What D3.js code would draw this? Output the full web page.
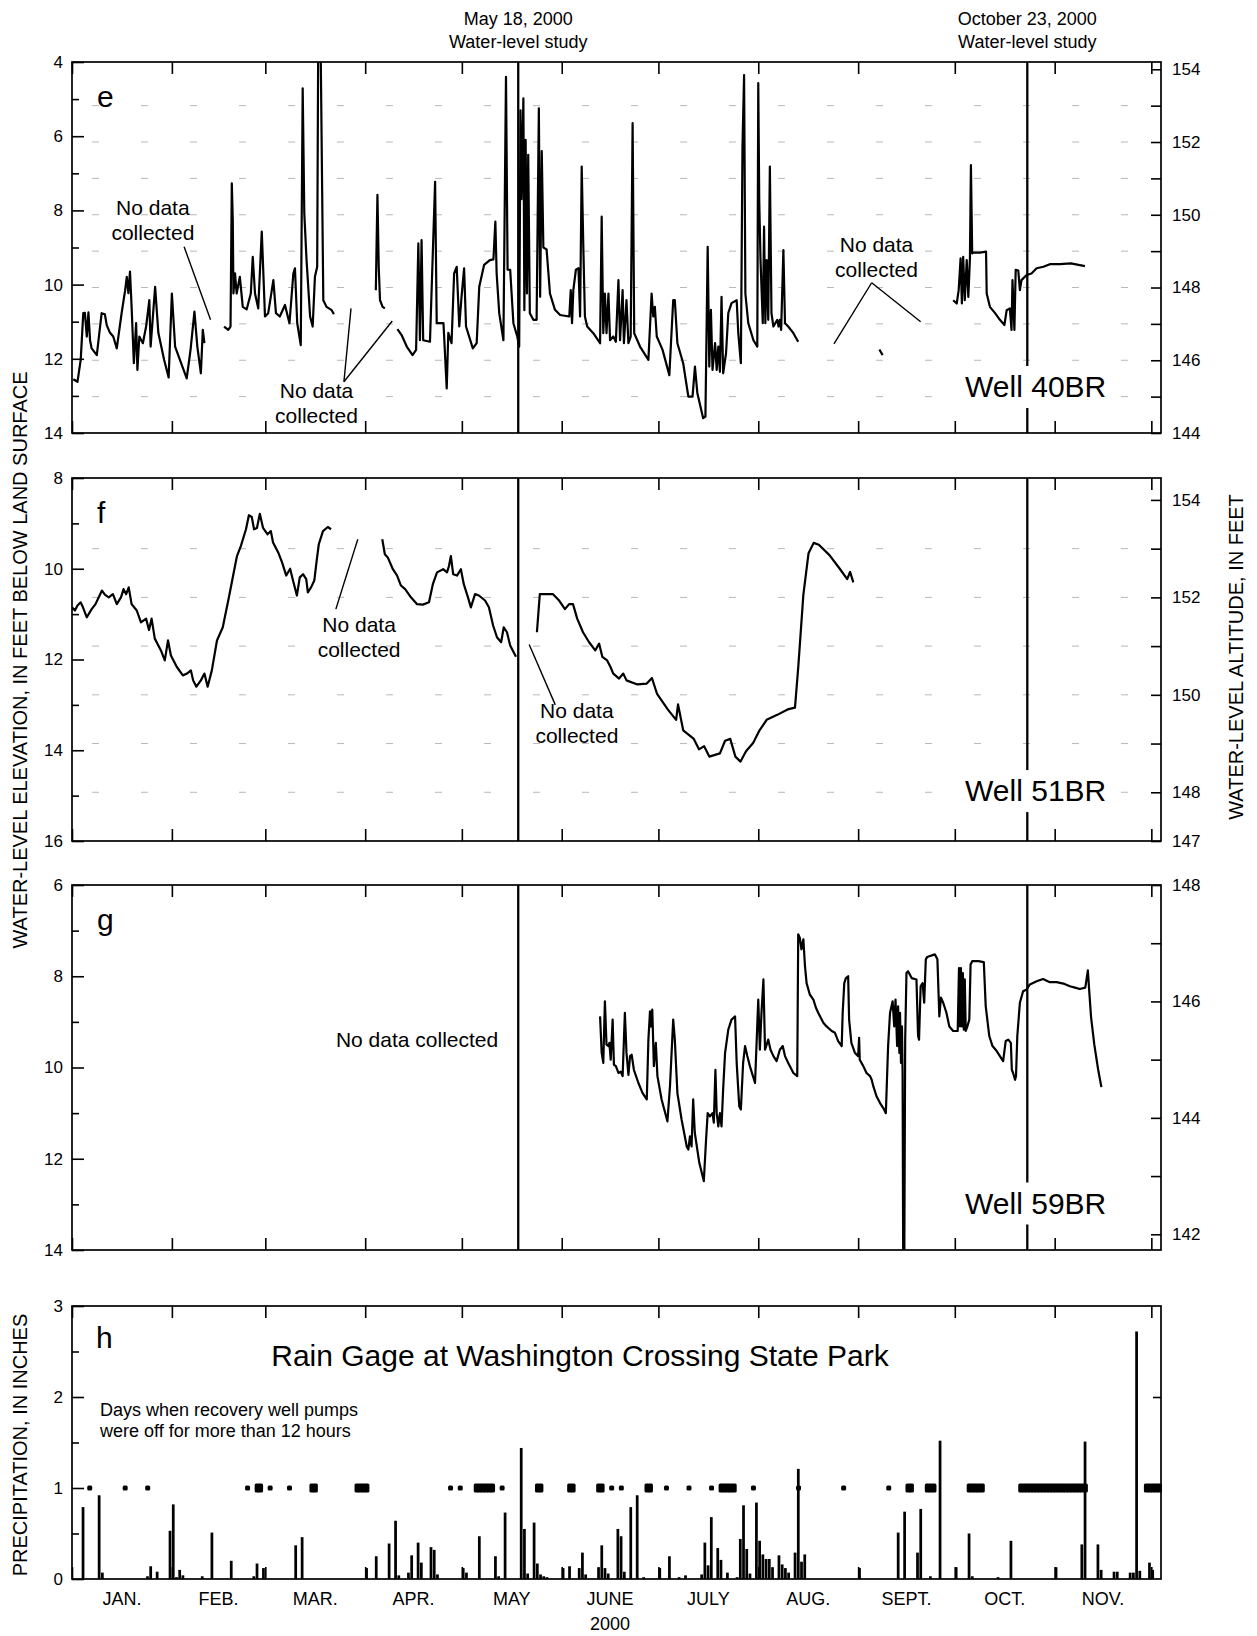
<!DOCTYPE html>
<html>
<head>
<meta charset="utf-8">
<script src="https://cdn.jsdelivr.net/npm/d3@7"></script>
<style>
  body { margin: 0; background: #fff; }
  svg text { font-family: "Liberation Sans", Arial, Helvetica, sans-serif; fill: #000; }
</style>
</head>
<body>
<svg id="chart"></svg>
<script>
// ---- data (days counted from Jan 1, 2000 = 0; depth in feet below land surface) ----
const monthLabels = ["JAN.", "FEB.", "MAR.", "APR.", "MAY", "JUNE", "JULY", "AUG.", "SEPT.", "OCT.", "NOV."];
const studyDays = [138.5, 296.5];
const studyLabels = [["May 18, 2000", "Water-level study"], ["October 23, 2000", "Water-level study"]];

const well40 = [
  [[0.4,12.55],[1.7,12.62],[2.7,12.03],[3.5,10.77],[4.0,10.76],[4.6,11.4],[5.1,10.75],[5.6,11.5],[6.1,11.72],[7.7,11.9],[9.2,10.77],[10.2,10.8],[10.8,11.1],[11.8,11.3],[12.8,11.4],[13.9,11.72],[15.4,10.77],[16.5,10.15],[17.0,9.79],[17.5,10.23],[18.0,9.65],[18.5,10.6],[19.2,12.12],[19.9,11.04],[20.3,12.3],[20.9,11.4],[22.0,11.58],[23.0,11.13],[24.0,10.42],[24.4,11.67],[25.8,10.06],[26.8,11.3],[28.6,12.03],[30.0,12.5],[31.0,10.24],[32.0,11.67],[33.5,12.03],[35.6,12.53],[36.8,11.75],[38.0,10.73],[38.9,11.67],[40.0,12.39],[40.6,11.22],[41.1,11.58]],
  [[47.2,11.13],[48.5,11.22],[49.2,11.13],[49.6,7.27],[49.9,8.26],[50.1,10.24],[50.6,9.7],[51.1,10.24],[52.1,9.79],[53.0,10.6],[54.2,10.67],[55.5,10.24],[56.1,9.25],[56.8,10.24],[57.8,10.64],[58.9,8.57],[59.9,10.86],[60.9,10.77],[62.5,9.88],[63.3,10.77],[64.5,10.86],[66.1,10.55],[67.5,11.04],[68.7,9.7],[69.2,9.56],[69.9,11.04],[71.0,11.63],[71.6,4.71],[72.1,8.08],[72.8,9.34],[73.9,10.86],[74.7,11.13],[75.4,9.79],[76.1,9.52],[76.4,3.8],[77.2,3.8],[78.0,10.42],[79.0,10.6],[80.6,10.69],[81.3,10.8]],
  [[94.3,10.15],[94.8,7.58],[95.2,9.52],[95.6,10.42],[96.4,10.6],[97.1,10.64]],
  [[101.0,11.2],[102.3,11.36],[103.9,11.67],[105.7,11.9],[106.8,11.76],[107.5,8.89],[108.0,11.5],[108.5,8.8],[109.0,11.5],[111.1,11.54],[112.7,7.23],[113.2,11.04],[115.3,11.04],[116.3,12.8],[116.8,11.3],[117.8,11.58],[118.6,9.7],[119.4,9.52],[120.2,11.13],[120.9,10.33],[121.7,9.56],[122.3,11.13],[124.4,11.72],[125.6,11.58],[126.4,10.06],[127.9,9.47],[129.7,9.34],[130.8,9.32],[131.4,8.3],[131.8,9.7],[132.6,10.77],[133.9,11.5],[134.7,4.4],[135.2,9.6],[136.0,9.6],[137.0,11.04],[138.2,11.4],[138.8,11.67],[139.2,5.3],[139.5,7.7],[140.1,4.98],[140.4,10.69],[140.8,6.1],[141.2,10.24],[141.6,6.5],[142.1,10.77],[143.2,10.95],[144.2,10.95],[144.9,5.25],[145.3,10.33],[145.8,6.4],[146.3,9.0],[147.3,9.05],[148.35,10.24],[149.9,10.68],[151.5,10.82],[154.35,10.86],[154.8,10.15],[155.2,11.04],[155.6,10.15],[156.4,9.6],[157.2,9.56],[157.7,10.86],[158.2,6.82],[158.7,8.98],[159.2,10.86],[159.9,11.13],[161.8,11.31],[163.9,11.58],[164.4,8.17],[164.9,11.31],[165.4,10.24],[165.9,11.31],[166.5,10.24],[167.0,11.5],[168.0,11.4],[168.8,11.54],[169.6,9.88],[170.1,11.5],[170.9,10.15],[171.3,11.58],[172.1,10.42],[172.7,11.58],[173.4,11.4],[174.0,5.65],[174.5,11.31],[176.3,11.67],[178.9,12.03],[179.9,10.24],[180.4,10.86],[180.9,10.6],[181.5,11.4],[183.3,11.76],[185.4,12.44],[186.6,10.42],[187.1,10.42],[187.9,11.58],[189.7,12.12],[191.3,13.02],[192.6,13.02],[193.35,12.21],[194.1,12.93],[195.9,13.6],[196.6,13.56],[197.3,8.98],[197.8,12.21],[198.3,10.68],[198.8,12.3],[199.6,11.58],[200.1,12.3],[200.6,11.67],[201.1,12.35],[201.6,10.33],[202.1,12.39],[203.0,11.85],[203.7,10.77],[204.7,10.5],[206.3,10.42],[206.8,11.31],[207.6,12.12],[208.1,6.28],[208.6,4.35],[209.0,10.24],[209.9,11.04],[211.5,11.5],[212.7,11.67],[213.0,4.57],[213.3,7.72],[213.7,9.34],[214.4,11.04],[214.8,8.44],[215.2,11.04],[215.6,9.34],[216.1,10.95],[216.6,6.82],[217.1,10.77],[217.7,11.13],[218.9,10.95],[219.3,11.13],[219.7,10.95],[220.1,11.22],[220.8,9.07],[221.3,11.04],[222.3,11.13],[223.9,11.31],[225.4,11.54]],
  [[250.6,11.75],[251.6,11.9]],
  [[273.5,10.42],[274.6,10.51],[275.2,10.15],[275.8,9.29],[276.2,10.51],[276.6,9.25],[277.1,10.42],[277.7,9.34],[278.2,10.33],[278.7,9.29],[279.0,6.78],[279.4,9.16],[279.7,9.14],[281.8,9.14],[283.7,9.11],[283.9,10.24],[284.9,10.6],[286.5,10.77],[288.0,10.95],[289.4,11.09],[290.1,10.69],[291.1,10.64],[291.6,11.22],[291.9,9.88],[292.5,11.22],[292.9,9.6],[293.7,9.62],[294.2,10.15],[294.7,9.88],[296.3,9.74],[297.8,9.7],[299.4,9.56],[301.5,9.52],[303.5,9.45],[306.6,9.45],[310.0,9.43],[314.4,9.5]]
];

const well51 = [
  [[0,10.85],[0.9,10.92],[1.7,10.81],[2.7,10.74],[3.4,10.85],[4.6,11.07],[6.1,10.89],[7.3,10.78],[8.3,10.63],[9.3,10.48],[10.2,10.57],[11.4,10.63],[12.7,10.56],[13.9,10.78],[15.2,10.63],[16.0,10.45],[16.8,10.56],[17.6,10.41],[18.5,10.78],[20.1,10.92],[21.4,11.18],[23.0,11.1],[23.9,11.35],[24.7,11.1],[25.7,11.54],[27.6,11.8],[28.8,12.02],[29.8,11.58],[30.7,11.91],[32.5,12.16],[34.4,12.35],[35.7,12.31],[36.9,12.24],[37.6,12.46],[38.6,12.6],[40.0,12.46],[41.1,12.31],[42.1,12.6],[43.4,12.24],[45.0,11.58],[46.8,11.29],[48.7,10.63],[51.2,9.72],[52.4,9.5],[54.0,9.13],[54.9,8.82],[55.8,8.86],[56.5,9.13],[57.4,9.1],[58.3,8.79],[59.3,9.1],[60.7,9.24],[61.7,9.17],[62.4,9.42],[64.0,9.64],[65.2,9.86],[66.5,10.15],[67.7,10.0],[68.6,10.26],[69.8,10.59],[70.7,10.19],[71.7,10.12],[72.7,10.23],[73.2,10.52],[74.2,10.41],[75.2,10.26],[76.0,9.79],[76.6,9.46],[77.9,9.17],[79.4,9.08],[80.4,9.13]],
  [[96.3,9.35],[97.1,9.68],[98.0,9.75],[99.6,10.01],[100.9,10.15],[102.1,10.37],[103.4,10.45],[105.2,10.63],[107.1,10.78],[108.9,10.79],[110.8,10.74],[112.0,10.34],[113.3,10.08],[115.2,10.01],[116.4,10.08],[117.0,9.94],[117.6,9.72],[118.3,10.12],[119.5,10.15],[120.7,10.01],[121.6,10.34],[122.9,10.63],[123.8,10.85],[125.1,10.56],[126.3,10.59],[128.2,10.7],[129.4,10.85],[130.7,11.25],[131.9,11.51],[133.2,11.62],[134.0,11.29],[135.0,11.4],[136.0,11.69],[137.8,11.94]],
  [[144.3,11.4],[145.2,10.56],[149.3,10.56],[151.2,10.7],[153.0,10.89],[154.3,10.78],[155.5,10.78],[156.8,11.1],[158.6,11.4],[160.5,11.62],[162.4,11.8],[163.6,11.65],[164.6,11.94],[166.1,12.02],[167.1,12.16],[168.0,12.31],[169.8,12.42],[171.1,12.31],[172.1,12.46],[175.5,12.55],[178.4,12.53],[180.0,12.41],[181.6,12.76],[184.9,13.1],[187.5,13.33],[188.1,12.99],[189.7,13.56],[193.0,13.75],[194.6,13.98],[196.2,13.91],[197.8,14.14],[201.1,14.07],[202.7,13.79],[204.3,13.75],[205.9,14.14],[207.5,14.25],[209.2,14.02],[211.4,13.84],[213.4,13.56],[215.6,13.33],[218.9,13.22],[222.1,13.1],[224.4,13.06],[225.4,12.18],[227.0,10.57],[228.6,9.66],[230.2,9.43],[231.8,9.47],[235.1,9.7],[238.3,10.0],[240.6,10.23],[241.5,10.07],[242.5,10.3]]
];

const well59 = [
  [[163.9,8.88],[164.4,9.68],[164.9,9.9],[165.4,8.55],[165.9,9.5],[166.5,9.53],[166.8,9.46],[167.2,9.83],[167.8,8.95],[168.2,9.94],[168.8,9.97],[169.6,10.12],[170.3,10.09],[170.9,10.19],[171.6,8.8],[172.1,9.68],[172.7,10.16],[173.2,9.75],[173.7,9.72],[174.4,10.05],[175.8,10.34],[177.1,10.56],[178.4,10.7],[178.9,9.39],[179.4,8.77],[179.7,9.1],[180.1,8.73],[180.6,9.97],[181.2,9.46],[181.7,10.19],[183.0,10.7],[184.8,11.18],[185.6,10.41],[186.6,8.95],[187.1,9.39],[187.9,10.56],[189.2,11.14],[190.8,11.73],[191.3,11.8],[191.8,11.51],[192.3,11.73],[192.8,10.7],[193.3,11.43],[194.7,12.09],[196.1,12.49],[196.8,11.58],[197.3,11.0],[198.0,11.07],[198.8,11.0],[199.2,11.21],[199.7,10.05],[200.1,11.0],[200.6,11.29],[201.1,11.0],[201.6,11.29],[202.1,10.48],[202.7,9.68],[203.7,9.17],[204.7,8.95],[205.8,8.88],[206.3,9.9],[207.1,10.85],[207.6,10.92],[208.3,9.9],[208.9,9.53],[209.6,9.75],[210.4,9.97],[212.0,10.34],[213.0,8.51],[213.5,9.61],[214.0,8.8],[214.6,8.07],[215.1,9.61],[216.1,9.39],[216.8,9.61],[217.7,9.75],[218.7,9.86],[219.7,9.61],[220.6,9.53],[221.3,9.75],[222.3,9.9],[223.9,10.12],[225.1,10.19],[225.4,7.08],[225.9,7.16],[226.4,7.41],[227.0,7.19],[227.5,7.78],[228.0,8.15],[229.0,8.4],[230.1,8.51],[230.9,8.69],[231.6,8.8],[233.2,9.02],[234.2,9.1],[235.8,9.2],[236.8,9.24],[237.8,9.42],[238.9,9.53],[239.2,8.8],[239.7,8.15],[240.2,8.04],[240.9,8.0],[241.2,8.95],[241.9,9.46],[243.0,9.68],[244.0,9.75],[244.3,9.35],[244.5,9.83],[245.6,9.97],[246.6,10.12],[247.7,10.19],[248.2,10.27],[248.7,10.41],[249.7,10.63],[250.8,10.78],[251.8,10.89],[252.6,11.0],[253.3,9.53],[253.9,8.8],[254.7,8.55],[255.2,9.1],[255.6,8.51],[256.1,9.53],[256.4,8.66],[256.8,9.68],[257.0,8.8],[257.3,9.9],[257.6,9.1],[257.8,10.12],[258.0,14.6],[258.3,14.6],[258.6,9.39],[259.0,7.93],[259.5,7.89],[260.6,8.04],[262.1,8.07],[262.6,9.31],[262.9,9.39],[263.4,8.22],[264.0,8.15],[264.5,8.58],[265.0,7.63],[265.4,7.58],[267.8,7.52],[268.6,7.63],[269.2,8.88],[269.7,8.47],[270.4,8.58],[271.4,8.8],[272.3,9.1],[273.5,9.2],[274.9,9.2],[275.3,7.82],[275.6,9.1],[275.9,7.82],[276.2,9.1],[276.5,7.93],[276.8,9.17],[277.1,8.07],[277.4,9.2],[277.9,9.1],[278.5,8.95],[278.9,7.74],[279.4,7.67],[281.3,7.67],[283.0,7.69],[283.6,8.66],[284.7,9.31],[285.7,9.53],[287.0,9.64],[288.0,9.75],[289.0,9.86],[289.8,9.42],[290.6,9.39],[291.4,9.46],[291.7,10.05],[292.1,10.12],[292.7,10.27],[293.0,10.19],[293.4,9.31],[294.2,8.58],[295.2,8.33],[296.3,8.29],[297.3,8.18],[299.4,8.11],[301.4,8.06],[303.5,8.13],[305.6,8.13],[307.7,8.16],[309.7,8.22],[311.3,8.25],[312.8,8.28],[314.5,8.25],[315.3,7.87],[315.7,8.3],[316.3,8.9],[317.3,9.5],[318.5,10.05],[319.5,10.43]]
];

const rainDays   = [3,8,9,23,24,26,30,31,32,33,34,40,43,49,56,57,59,69,71,91,94,98,100,101,104,105,107,108,111,112,113,121,122,126,131,132,134,139,140,141,143,144,145,146,147,152,154,157,158,159,163,164,165,166,169,170,171,173,175,177,182,185,188,190,195,196,197,198,200,201,203,206,207,208,209,210,212,213,214,215,216,217,219,220,221,222,224,225,226,227,244,256,258,262,263,266,269,274,278,279,287,291,305,313,314,318,319,323,324,328,329,330,331,334,335];
const rainInches = [0.79,0.92,0.07,0.03,0.14,0.08,0.53,0.82,0.02,0.1,0.04,0.03,0.51,0.2,0.03,0.17,0.12,0.37,0.46,0.12,0.25,0.39,0.64,0.04,0.07,0.26,0.4,0.18,0.35,0.32,0.05,0.12,0.07,0.47,0.25,0.03,0.73,1.44,0.55,0.06,0.62,0.17,0.05,0.03,0.02,0.12,0.14,0.12,0.29,0.05,0.13,0.37,0.12,0.06,0.55,0.47,0.08,0.79,0.92,0.02,0.12,0.25,0.02,0.04,0.05,0.4,0.15,0.68,0.34,0.21,0.07,0.02,0.44,0.81,0.33,0.06,0.84,0.42,0.27,0.22,0.22,0.13,0.26,0.16,0.12,0.07,0.29,1.21,0.19,0.27,0.12,0.51,0.74,0.29,0.77,0.03,1.52,0.13,0.5,0.03,0.02,0.42,0.13,0.38,1.51,0.38,0.1,0.08,0.08,0.07,0.07,2.72,0.09,0.18,0.1];

const pumpOffDays = [5,16,23,54,57,58,61,67,74,75,88,89,90,91,117,120,125,126,127,128,129,130,133,144,145,154,155,163,164,167,170,178,179,184,191,198,201,202,203,204,205,211,225,239,253,259,260,265,266,267,278,279,280,281,282,
  294,295,296,297,298,299,300,301,302,303,304,305,306,307,308,309,310,311,312,313,314,333,334,335,336,337];

// "No data collected" notes: [label day, label depth (first baseline), leader lines [[d1,v1,d2,v2], ...]]
const notesE = [[25.1, 8.12, [[34.8, 8.98, 43.0, 10.95]]],
                [75.9, 13.06, [[84.4, 12.62, 86.6, 10.64], [84.4, 12.62, 99.4, 10.98]]],
                [249.7, 9.11, [[248.2, 9.95, 236.5, 11.6], [248.2, 9.95, 263.4, 11.0]]]];
const notesF = [[89.1, 11.39, [[81.9, 10.89, 88.7, 9.35]]],
                [156.7, 13.29, [[141.9, 11.67, 150.0, 13.0]]]];

// ---- layout ----
const W = 1257, H = 1636, L = 72, R = 1161;
const t0 = Date.UTC(2000, 0, 1);
const dayDate = d => new Date(t0 + d * 864e5);
const x = d3.scaleUtc().domain([dayDate(0), dayDate(338)]).range([L, R]);
const xd = d => x(dayDate(d));
const dayW = xd(1) - xd(0);

const svg = d3.select("#chart").attr("width", W).attr("height", H);

const panels = [
  { key: "e", top: 62, bottom: 433, dom: [4, 14], major: [4, 6, 8, 10, 12, 14], minor: [5, 7, 9, 11, 13],
    right: [144, 154.2], rMajor: [144, 146, 148, 150, 152, 154], rMinor: [145, 147, 149, 151, 153],
    grid: [145, 146, 147, 148, 149, 150, 151, 152, 153], well: "Well 40BR", labelDepth: 13.03, series: well40, notes: notesE },
  { key: "f", top: 478, bottom: 841, dom: [8, 16], major: [8, 10, 12, 14, 16], minor: [9, 11, 13, 15],
    right: [147, 154.45], rMajor: [147, 148, 150, 152, 154], rMinor: [149, 151, 153],
    grid: [148, 149, 150, 151, 152, 153], well: "Well 51BR", labelDepth: 15.12, series: well51, notes: notesF },
  { key: "g", top: 885, bottom: 1250, dom: [6, 14], major: [6, 8, 10, 12, 14], minor: [7, 9, 11, 13],
    right: [141.73, 148], rMajor: [142, 144, 146, 148], rMinor: [143, 145, 147],
    grid: [], well: "Well 59BR", labelDepth: 13.2, series: well59, notes: [] }
];

const months = d3.utcMonth.range(dayDate(0), dayDate(338.5));

function styleAxis(g, size) {
  g.select(".domain").remove();
  g.selectAll("line").attr("stroke", "#000").attr("stroke-width", 1.6);
  g.selectAll("text").attr("font-size", size).attr("font-family", null).attr("fill", "#000");
  g.attr("font-family", null);
}

function monthTicks(g, top, bottom) {
  g.append("g").attr("transform", `translate(0,${top})`)
    .call(d3.axisTop(x).tickValues(months).tickSizeInner(-12).tickSizeOuter(0).tickFormat(""))
    .call(a => styleAxis(a, 0));
  g.append("g").attr("transform", `translate(0,${bottom})`)
    .call(d3.axisBottom(x).tickValues(months).tickSizeInner(-12).tickSizeOuter(0).tickFormat(""))
    .call(a => styleAxis(a, 0));
}

function frame(g, top, bottom) {
  g.append("rect").attr("x", L).attr("y", top).attr("width", R - L).attr("height", bottom - top)
    .attr("fill", "none").attr("stroke", "#000").attr("stroke-width", 1.7);
}

// study titles
studyDays.forEach((d, i) => {
  svg.append("text").attr("x", xd(d)).attr("y", 25).attr("text-anchor", "middle")
    .attr("font-size", 18).text(studyLabels[i][0]);
  svg.append("text").attr("x", xd(d)).attr("y", 48).attr("text-anchor", "middle")
    .attr("font-size", 18).text(studyLabels[i][1]);
});

panels.forEach(p => {
  const g = svg.append("g");
  const y = d3.scaleLinear().domain(p.dom).range([p.top, p.bottom]);
  const yr = d3.scaleLinear().domain(p.right).range([p.bottom, p.top]);

  const clipId = "clip-" + p.key;
  svg.append("clipPath").attr("id", clipId).append("rect")
    .attr("x", L).attr("y", p.top).attr("width", R - L).attr("height", p.bottom - p.top);

  // faint dashed reference lines at altitude ticks
  g.selectAll(".grid").data(p.grid).join("line")
    .attr("x1", L + 20).attr("x2", R - 4).attr("y1", d => yr(d)).attr("y2", d => yr(d))
    .attr("stroke", "#b8b8b8").attr("stroke-width", 1).attr("stroke-dasharray", "7 42");

  // left axis
  g.append("g").attr("transform", `translate(${L},0)`)
    .call(d3.axisLeft(y).tickValues(p.major).tickSizeInner(-12).tickSizeOuter(0).tickPadding(9).tickFormat(d3.format("d")))
    .call(a => styleAxis(a, 17));
  g.append("g").attr("transform", `translate(${L},0)`)
    .call(d3.axisLeft(y).tickValues(p.minor).tickSizeInner(-7).tickSizeOuter(0).tickFormat(""))
    .call(a => styleAxis(a, 0));
  // right axis
  g.append("g").attr("transform", `translate(${R},0)`)
    .call(d3.axisRight(yr).tickValues(p.rMajor).tickSizeInner(-10).tickSizeOuter(0).tickPadding(11).tickFormat(d3.format("d")))
    .call(a => styleAxis(a, 17));
  g.append("g").attr("transform", `translate(${R},0)`)
    .call(d3.axisRight(yr).tickValues(p.rMinor).tickSizeInner(-10).tickSizeOuter(0).tickFormat(""))
    .call(a => styleAxis(a, 0));

  monthTicks(g, p.top, p.bottom);

  // study lines
  g.selectAll(".study").data(studyDays).join("line")
    .attr("x1", d => xd(d)).attr("x2", d => xd(d)).attr("y1", p.top).attr("y2", p.bottom)
    .attr("stroke", "#000").attr("stroke-width", 2.3);

  // water level series
  const line = d3.line().x(d => xd(d[0])).y(d => y(d[1]));
  g.append("g").attr("clip-path", `url(#${clipId})`)
    .selectAll("path").data(p.series).join("path")
    .attr("d", line).attr("fill", "none").attr("stroke", "#000")
    .attr("stroke-width", 2.2).attr("stroke-linejoin", "round");

  // notes
  p.notes.forEach(n => {
    const t = g.append("text").attr("x", xd(n[0])).attr("y", y(n[1])).attr("text-anchor", "middle").attr("font-size", 21);
    t.append("tspan").attr("x", xd(n[0])).text("No data");
    t.append("tspan").attr("x", xd(n[0])).attr("dy", 25).text("collected");
    n[2].forEach(s => g.append("line")
      .attr("x1", xd(s[0])).attr("y1", y(s[1])).attr("x2", xd(s[2])).attr("y2", y(s[3]))
      .attr("stroke", "#000").attr("stroke-width", 1.4));
  });

  // well label with knockout behind it
  const wl = g.append("text").attr("x", xd(277.2)).attr("y", y(p.labelDepth)).attr("font-size", 30).text(p.well);
  const bw = wl.node().getComputedTextLength();
  g.insert("rect", () => wl.node())
    .attr("x", xd(277.2) - 4).attr("y", y(p.labelDepth) - 31).attr("width", bw + 8).attr("height", 42)
    .attr("fill", "#fff");

  // panel letter
  g.append("text").attr("x", L + 25).attr("y", p.top + 45).attr("font-size", 30).text(p.key);

  frame(g, p.top, p.bottom);
});

// panel g note
{
  const p = panels[2];
  const y = d3.scaleLinear().domain(p.dom).range([p.top, p.bottom]);
  svg.append("text").attr("x", xd(107.1)).attr("y", y(9.54)).attr("text-anchor", "middle")
    .attr("font-size", 21).text("No data collected");
}

// ---- panel h: precipitation ----
{
  const top = 1306, bottom = 1579;
  const g = svg.append("g");
  const y = d3.scaleLinear().domain([0, 3]).range([bottom, top]);

  g.append("g").attr("transform", `translate(${L},0)`)
    .call(d3.axisLeft(y).tickValues([0, 1, 2, 3]).tickSizeInner(-12).tickSizeOuter(0).tickPadding(9).tickFormat(d3.format("d")))
    .call(a => styleAxis(a, 17));
  g.append("g").attr("transform", `translate(${L},0)`)
    .call(d3.axisLeft(y).tickValues([0.5, 1.5, 2.5]).tickSizeInner(-7).tickSizeOuter(0).tickFormat(""))
    .call(a => styleAxis(a, 0));
  g.append("g").attr("transform", `translate(${R},0)`)
    .call(d3.axisRight(y).tickValues([1, 2]).tickSizeInner(-8).tickSizeOuter(0).tickFormat(""))
    .call(a => styleAxis(a, 0));
  monthTicks(g, top, bottom);

  // bars
  g.selectAll(".bar").data(rainDays).join("rect")
    .attr("x", d => xd(d)).attr("width", dayW * 0.85)
    .attr("y", (d, i) => y(rainInches[i])).attr("height", (d, i) => y(0) - y(rainInches[i]))
    .attr("fill", "#000");

  // pump-off days
  const offSet = new Set(pumpOffDays);
  const clustered = d => offSet.has(d - 1) || offSet.has(d + 1);
  g.selectAll(".off").data(pumpOffDays).join("rect")
    .attr("x", d => xd(d) + dayW / 2 - (clustered(d) ? dayW + 2 : 5) / 2)
    .attr("width", d => clustered(d) ? dayW + 2 : 5)
    .attr("y", d => y(1) - (clustered(d) ? 4.5 : 2.5))
    .attr("height", d => clustered(d) ? 9 : 5)
    .attr("rx", 1.5).attr("fill", "#000");

  g.append("text").attr("x", L + 24).attr("y", top + 42).attr("font-size", 30).text("h");
  g.append("text").attr("x", 580).attr("y", 1366).attr("text-anchor", "middle").attr("font-size", 30)
    .text("Rain Gage at Washington Crossing State Park");
  g.append("text").attr("x", 100).attr("y", 1416).attr("font-size", 18).text("Days when recovery well pumps");
  g.append("text").attr("x", 100).attr("y", 1437).attr("font-size", 18).text("were off for more than 12 hours");

  frame(g, top, bottom);

  // month labels
  g.selectAll(".mon").data(monthLabels).join("text")
    .attr("x", (d, i) => (x(months[i]) + x(months[i + 1])) / 2)
    .attr("y", 1605).attr("text-anchor", "middle").attr("font-size", 18).text(d => d);
  g.append("text").attr("x", (x(months[5]) + x(months[6])) / 2).attr("y", 1630)
    .attr("text-anchor", "middle").attr("font-size", 18).text("2000");
}

// axis titles
svg.append("text").attr("transform", "translate(27,660) rotate(-90)").attr("text-anchor", "middle")
  .attr("font-size", 20).text("WATER-LEVEL ELEVATION, IN FEET BELOW LAND SURFACE");
svg.append("text").attr("transform", "translate(1243,657) rotate(-90)").attr("text-anchor", "middle")
  .attr("font-size", 20).text("WATER-LEVEL ALTITUDE, IN FEET");
svg.append("text").attr("transform", "translate(27,1445) rotate(-90)").attr("text-anchor", "middle")
  .attr("font-size", 20).text("PRECIPITATION, IN INCHES");
</script>
</body>
</html>
